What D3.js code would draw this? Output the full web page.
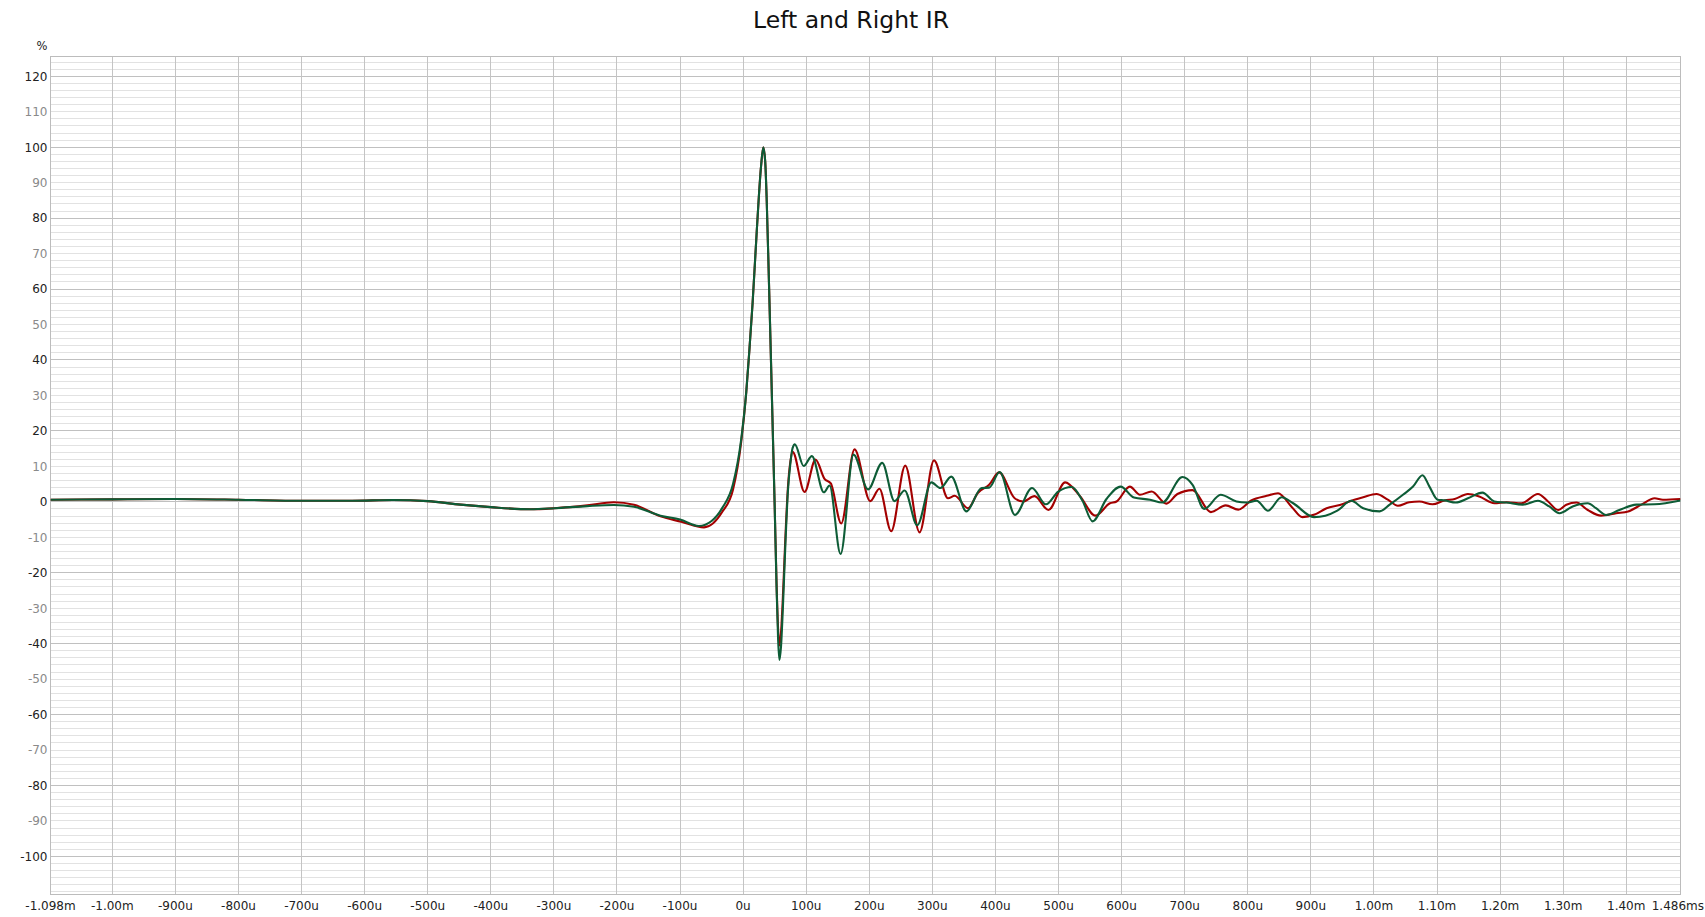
<!DOCTYPE html>
<html><head><meta charset="utf-8">
<script src="https://cdn.jsdelivr.net/npm/d3@7"></script>
<style>body{margin:0;background:#fff;overflow:hidden} text{font-family:"DejaVu Sans",sans-serif}</style>
</head><body><svg id="c" width="1705" height="917"></svg>
<script>
// ---- data (time in µs, value in %) ----
const leftTime = [-1098,-1000,-900,-800,-700,-620,-555,-500,-448,-400,-337,-299,-247,-205,-173,-131,-98,-62,-33,-16,-3,5,10,15,21.5,28.4,32,35,37.4,40.5,43.7,47,50,53,55.5,57.5,60,63,67,71,75,78.5,97.4,114.8,129,139,155.5,176.6,201.5,216,234.7,257,279.7,302.6,324.8,335.4,356.5,372,390,405.7,430.5,443.7,462,484,510.5,534,558.5,581.5,592,613,629,647.5,671,688.5,712.5,741.5,765,785,805.5,830,848,870,886.5,906,925,946,969,983,1004,1022,1038,1056,1072,1093,1112,1128,1149,1167,1191,1210,1234,1260,1276,1292,1305,1321,1339,1360,1384,1403,1424,1445,1458,1486];
const leftValue = [0.6,0.7,0.8,0.6,0.3,0.3,0.5,0.2,-0.8,-1.5,-2.1,-1.8,-1.0,-0.1,-0.8,-4.1,-5.6,-7.2,-2.8,3.5,17,31,43,56,76,94.6,100,96,85,65,43,20,-1,-23,-36,-40.5,-37,-27,-10,4,11.5,14.1,2.8,11.9,6.5,5.2,-6.1,14.8,0.2,3.7,-8.3,10.2,-8.6,11.7,1.0,1.7,-1.8,2.5,4.8,8.3,1.0,0.1,1.6,-2.3,5.5,1.6,-3.9,-0.4,0.1,4.3,2.0,2.9,-0.5,2.2,3.3,-2.9,-1.0,-2.2,0.4,1.7,2.4,-1.5,-4.3,-3.6,-1.8,-0.9,0.6,1.3,2.2,0.6,-1.1,-0.1,0.1,-0.7,0.4,0.8,2.2,1.5,-0.4,-0.1,-0.4,2.2,0.1,-2.3,-0.8,-0.2,-2.3,-3.9,-3.2,-2.7,-0.8,1.0,0.6,0.8];

const rightTime = [-1098,-1000,-900,-800,-700,-620,-555,-500,-448,-400,-337,-299,-247,-205,-173,-131,-100,-70,-50,-33,-16,-3,5,10,15,21.5,28.4,32,35,37.4,40.5,43.7,47,50,53,55.5,57.5,60,63,67,71,75,78.5,82,96,109,128,137,154.5,175,198,220.5,240,256,276,298.4,312.7,330,354,378,390,406.7,431,458,480,499.5,521,538,554,576,598.5,619.5,645,664.5,696.5,712.5,731,757,782,798,814,832,853.5,872,905,923,942,964,983,1009,1025,1046,1062,1077,1088,1101,1112,1130,1149,1172,1191,1210,1236,1260,1278,1294,1315,1339,1352,1368,1389,1416,1445,1486];
const rightValue = [0.6,0.7,0.8,0.6,0.3,0.3,0.5,0.2,-0.8,-1.5,-2.1,-1.8,-1.2,-0.9,-1.4,-3.9,-5.0,-6.8,-5.4,-1.7,5.0,17.7,31,43,56,76,94.6,100,96,85,65,43,20,-1,-24,-39,-44.6,-41,-30,-12,3,11,15.2,16.2,10.1,12.9,2.7,4.6,-14.7,13.3,3.5,11,0.2,3.2,-6.6,5.5,3.9,7.1,-2.7,3.9,4.0,8.4,-3.7,3.9,-0.7,2.9,4.2,0.3,-5.5,0.8,4.3,1.2,0.6,-0.2,7.0,4.8,-2.0,2.0,0.1,-0.2,0.3,-2.5,1.3,-0.4,-4.3,-3.9,-2.5,0.3,-1.8,-2.7,-0.8,2.0,4.3,7.5,4.3,0.6,0.4,-0.2,1.0,2.6,0.1,-0.2,-0.8,0.3,-1.3,-3.2,-1.3,-0.4,-1.8,-3.7,-2.3,-0.8,-0.7,0.4];

const xTickValues = [-1098,-1000,-900,-800,-700,-600,-500,-400,-300,-200,-100,0,100,200,300,400,500,600,700,800,900,1000,1100,1200,1300,1400,1486];
const xTickLabels = ["-1.098m","-1.00m","-900u","-800u","-700u","-600u","-500u","-400u","-300u","-200u","-100u","0u","100u","200u","300u","400u","500u","600u","700u","800u","900u","1.00m","1.10m","1.20m","1.30m","1.40m","1.486ms"];
const yTickValues = [-100,-90,-80,-70,-60,-50,-40,-30,-20,-10,0,10,20,30,40,50,60,70,80,90,100,110,120];
const yTickLabels = ["-100","-90","-80","-70","-60","-50","-40","-30","-20","-10","0","10","20","30","40","50","60","70","80","90","100","110","120"];
const titleText = "Left and Right IR";
const yUnit = "%";

// ---- layout ----
const X0 = 50.5, X1 = 1680.5, Y0 = 56.3, Y1 = 894;
const x = d3.scaleLinear().domain([-1098, 1486]).range([X0, X1]);
const y = d3.scaleLinear().domain([-110.6, 125.65]).range([Y1, Y0]);

const svg = d3.select("#c");
svg.append("rect").attr("width",1705).attr("height",917).attr("fill","#fff");

svg.append("text").attr("x", 851).attr("y", 27.5).attr("text-anchor","middle")
  .attr("font-size", 23.5).attr("fill","#111").text(titleText);
svg.append("text").attr("x", 47.5).attr("y", 49.5).attr("text-anchor","end")
  .attr("font-size", 11.5).attr("fill","#222").text(yUnit);

const grid = svg.append("g");
// minor horizontal grid every 2
d3.range(-110, 125.65, 2).forEach(v => {
  if (v % 20 === 0) return;
  grid.append("line").attr("x1",X0).attr("x2",X1).attr("y1",y(v)).attr("y2",y(v))
    .attr("stroke","#e2e2e2").attr("stroke-width",1).attr("shape-rendering","crispEdges");
});
// major horizontal
yTickValues.filter(v => v % 20 === 0).forEach(v => {
  grid.append("line").attr("x1",X0).attr("x2",X1).attr("y1",y(v)).attr("y2",y(v))
    .attr("stroke","#c0c0c0").attr("stroke-width",1).attr("shape-rendering","crispEdges");
});
// vertical grid
xTickValues.slice(1, -1).forEach(v => {
  grid.append("line").attr("x1",x(v)).attr("x2",x(v)).attr("y1",Y0).attr("y2",Y1)
    .attr("stroke","#c4c4c4").attr("stroke-width",1).attr("shape-rendering","crispEdges");
});
grid.append("rect").attr("x",X0).attr("y",Y0).attr("width",X1-X0).attr("height",Y1-Y0)
  .attr("fill","none").attr("stroke","#bcbcbc").attr("shape-rendering","crispEdges");

// y labels
yTickValues.forEach((v,i) => {
  svg.append("text").attr("x", 47.5).attr("y", y(v) + 4.3).attr("text-anchor","end")
    .attr("font-size", 12).attr("fill", v % 20 === 0 ? "#222" : "#8a8a8a").text(yTickLabels[i]);
});
// x labels
xTickValues.forEach((v,i) => {
  const last = i === xTickValues.length - 1;
  svg.append("text").attr("x", last ? 1704 : x(v)).attr("y", 909.5)
    .attr("text-anchor", last ? "end" : "middle")
    .attr("font-size", 12).attr("fill","#222").text(xTickLabels[i]);
});

// clip
svg.append("clipPath").attr("id","clip").append("rect")
  .attr("x",X0).attr("y",Y0).attr("width",X1-X0).attr("height",Y1-Y0);

const line = d3.line().x(d => x(d[0])).y(d => y(d[1])).curve(d3.curveMonotoneX);
const leftData = leftTime.map((t,i) => [t, leftValue[i]]);
const rightData = rightTime.map((t,i) => [t, rightValue[i]]);

const plot = svg.append("g").attr("clip-path","url(#clip)");
plot.append("path").attr("d", line(leftData)).attr("fill","none")
  .attr("stroke","#a30000").attr("stroke-width",2.1).attr("stroke-linejoin","round");
plot.append("path").attr("d", line(rightData)).attr("fill","none")
  .attr("stroke","#0d5c36").attr("stroke-width",2.1).attr("stroke-linejoin","round");
</script>
</body></html>
